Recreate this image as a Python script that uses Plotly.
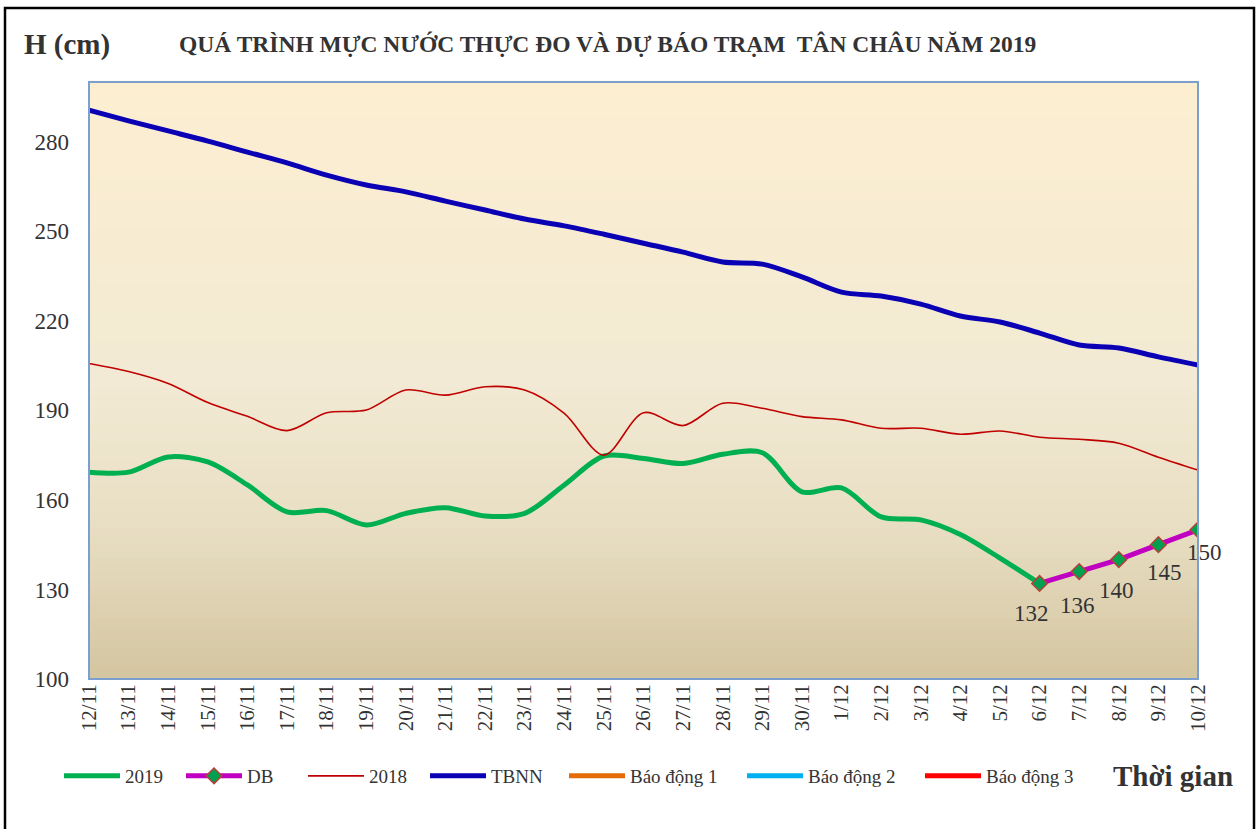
import plotly.graph_objects as go

dates = ["12/11", "13/11", "14/11", "15/11", "16/11", "17/11", "18/11", "19/11", "20/11",
         "21/11", "22/11", "23/11", "24/11", "25/11", "26/11", "27/11", "28/11", "29/11",
         "30/11", "1/12", "2/12", "3/12", "4/12", "5/12", "6/12", "7/12", "8/12", "9/12", "10/12"]

h2019 = [169.3, 169.3, 174.4, 172.7, 165.0, 156.0, 156.4, 151.6, 155.5, 157.4, 154.6, 155.5,
         165.0, 174.7, 173.9, 172.2, 175.3, 175.8, 162.7, 164.0, 154.3, 153.3, 148.4, 140.5, 132.0,
         None, None, None, None]

db = [None] * 24 + [132, 136, 140, 145, 150]

h2018 = [205.7, 203.0, 199.0, 192.6, 188.0, 183.2, 189.2, 190.1, 196.8, 195.1, 197.9, 196.8,
         189.0, 175.0, 189.2, 184.9, 192.4, 190.7, 187.9, 186.8, 184.0, 184.0, 182.0, 183.1,
         181.0, 180.3, 179.0, 174.3, 170.0]

tbnn = [290.6, 287.0, 283.6, 280.2, 276.5, 272.9, 268.8, 265.5, 263.2, 260.1, 257.1, 254.1,
        251.8, 249.0, 246.0, 243.0, 239.7, 239.0, 234.7, 229.6, 228.3, 225.6, 221.6, 219.6,
        215.9, 211.9, 210.9, 207.9, 205.2]

bao_dong_1 = [350] * 29
bao_dong_2 = [400] * 29
bao_dong_3 = [450] * 29

y_ticks = [100, 130, 160, 190, 220, 250, 280]

SERIF = "Liberation Serif, Times New Roman, serif"
TXT = "#333333"

fig = go.Figure()

fig.add_trace(go.Scatter(x=dates, y=h2019, name="2019", mode="lines", legend="legend",
                         line=dict(color="#00B050", width=5, shape="spline", smoothing=0.9)))
fig.add_trace(go.Scatter(x=dates, y=db, name="DB", mode="lines+markers", legend="legend",
                         line=dict(color="#C000C0", width=5),
                         marker=dict(symbol="diamond", size=12, color="#00A050",
                                     line=dict(color="#B8403C", width=1.5))))
fig.add_trace(go.Scatter(x=dates, y=h2018, name="2018", mode="lines", legend="legend",
                         line=dict(color="#C00000", width=1.6, shape="spline", smoothing=0.9)))
fig.add_trace(go.Scatter(x=dates, y=tbnn, name="TBNN", mode="lines", legend="legend",
                         line=dict(color="#0A00B4", width=5, shape="spline", smoothing=0.9)))
fig.add_trace(go.Scatter(x=dates, y=bao_dong_1, name="Báo động 1", mode="lines", legend="legend2",
                         line=dict(color="#E36C09", width=5)))
fig.add_trace(go.Scatter(x=dates, y=bao_dong_2, name="Báo động 2", mode="lines", legend="legend2",
                         line=dict(color="#00B0F0", width=5)))
fig.add_trace(go.Scatter(x=dates, y=bao_dong_3, name="Báo động 3", mode="lines", legend="legend2",
                         line=dict(color="#FF0000", width=5)))

# DB value labels
offsets = [(-8, -30), (-2, -34), (-2, -31), (6, -28), (6, -23)]
k = 0
for d, v in zip(dates, db):
    if v is None:
        continue
    dx, dy = offsets[k]
    k += 1
    fig.add_annotation(x=d, y=v, text=str(v), showarrow=False, xshift=dx, yshift=dy,
                       font=dict(family=SERIF, size=23, color=TXT))

# vertical gradient background of the plot area
def lerp(c1, c2, t):
    return tuple(round(a + (b - a) * t) for a, b in zip(c1, c2))

stops = [(0.0, (253, 238, 208)), (0.5, (242, 234, 212)), (0.75, (232, 222, 195)), (1.0, (212, 197, 160))]
N = 80
shapes = []
for i in range(N):
    t = (i + 0.5) / N  # 0 top -> 1 bottom
    for j in range(len(stops) - 1):
        if stops[j][0] <= t <= stops[j + 1][0]:
            tt = (t - stops[j][0]) / (stops[j + 1][0] - stops[j][0])
            c = lerp(stops[j][1], stops[j + 1][1], tt)
            break
    shapes.append(dict(type="rect", xref="paper", yref="paper", x0=0, x1=1,
                       y0=1 - (i + 1) / N, y1=1 - i / N + 0.002,
                       fillcolor="rgb(%d,%d,%d)" % c, line=dict(width=0), layer="below"))
# plot area border
shapes.append(dict(type="rect", xref="paper", yref="paper", x0=0, x1=1, y0=0, y1=1,
                   line=dict(color="#7BA0D0", width=2), layer="above"))
# outer frame
shapes.append(dict(type="rect", xref="paper", yref="paper",
                   x0=(5 - 89) / 1109, x1=(1254 - 89) / 1109,
                   y0=(679 - 832) / 597, y1=(679 - 8) / 597,
                   line=dict(color="#000000", width=2.5), layer="above"))

LEG_Y = (679 - 776) / 597
fig.update_layout(
    width=1259, height=829,
    margin=dict(l=89, r=61, t=82, b=150),
    paper_bgcolor="white", plot_bgcolor="#F2EAD4",
    shapes=shapes,
    font=dict(family=SERIF, color=TXT),
    showlegend=True,
    legend=dict(orientation="h", x=(59 - 89) / 1109, y=LEG_Y, xanchor="left", yanchor="middle",
                font=dict(family=SERIF, size=19, color=TXT), bgcolor="rgba(0,0,0,0)",
                entrywidth=51, itemwidth=56, tracegroupgap=0),
    legend2=dict(orientation="h", x=(564 - 89) / 1109, y=LEG_Y, xanchor="left", yanchor="middle",
                 font=dict(family=SERIF, size=19, color=TXT), bgcolor="rgba(0,0,0,0)",
                 entrywidth=107, itemwidth=56, tracegroupgap=0),
    xaxis=dict(type="category", range=[0, 28], showgrid=False, zeroline=False,
               tickangle=-90, tickfont=dict(family=SERIF, size=21, color=TXT),
               ticks="", showline=False),
    yaxis=dict(range=[100, 300], tickvals=y_ticks, showgrid=False, zeroline=False,
               tickfont=dict(family=SERIF, size=23, color=TXT), ticks="", showline=False,
               ticklabelstandoff=19),
)

fig.add_annotation(xref="paper", yref="paper", x=(22 - 89) / 1109, y=(679 - 44) / 597,
                   xanchor="left", yanchor="middle", showarrow=False, text="<b>H (cm)</b>",
                   font=dict(family=SERIF, size=29, color=TXT))
fig.add_annotation(xref="paper", yref="paper", x=(607 - 89) / 1109, y=(679 - 44) / 597,
                   xanchor="center", yanchor="middle", showarrow=False,
                   text="<b>QUÁ TRÌNH MỰC NƯỚC THỰC ĐO VÀ DỰ BÁO TRẠM  TÂN CHÂU NĂM 2019</b>",
                   font=dict(family=SERIF, size=23.5, color=TXT))
fig.add_annotation(xref="paper", yref="paper", x=(1235 - 89) / 1109, y=(679 - 776) / 597,
                   xanchor="right", yanchor="middle", showarrow=False, text="<b>Thời gian</b>",
                   font=dict(family=SERIF, size=29, color=TXT))

fig.write_html("out.html", config={"displayModeBar": False},
               post_script="document.body.style.margin='0';")
